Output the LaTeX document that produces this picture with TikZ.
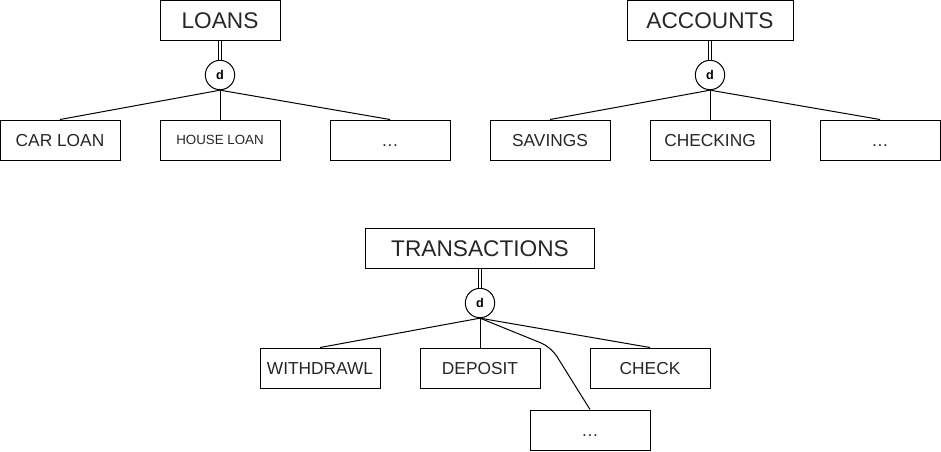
\documentclass[tikz,border=0pt]{standalone}
\usepackage{fontspec}
\setmainfont{Liberation Sans}
\usetikzlibrary{positioning}

\tikzset{
  ent/.style={draw, line width=0.75pt, minimum width=90pt, minimum height=30pt, inner sep=0pt, text=black!85, text height=9.3pt, text depth=0pt, font=\fontsize{13}{15}\selectfont},
  superent/.style={ent, text height=12.2pt, font=\fontsize{17}{20}\selectfont},
  disj/.style={draw, circle, line width=0.75pt, minimum size=22pt, inner sep=0pt, font=\fontsize{9.5}{10}\selectfont\bfseries},
  isa/.style={line width=0.75pt},
  total/.style={double, double distance=1.6pt, line width=0.6pt}
}

\begin{document}
\begin{tikzpicture}[x=0.75pt, y=-0.75pt]
			
			\useasboundingbox (0,0) rectangle (941,451);
			
			% LOANS
			\node[superent] (loans) at (220,20) {LOANS};
			\node[disj] (dl) at (220,75) {d};
			\node[ent] (carloan) at (60,140) {CAR LOAN};
			\node[ent, text height=7.2pt, font=\fontsize{10}{12}\selectfont] (houseloan) at (220,140) {HOUSE LOAN};
			\node[ent] (loandots) at (390,140) {…};
			
			\draw[total] (loans.south) -- (dl.north);
			\draw[isa] (dl.south) -- (carloan.north);
			\draw[isa] (dl.south) -- (houseloan.north);
			\draw[isa] (dl.south) -- (loandots.north);
			
			% ACCOUNTS
			\node[superent, minimum width=124.5pt] (accounts) at (710,20) {ACCOUNTS};
			\node[disj] (da) at (710,75) {d};
			\node[ent] (savings) at (550,140) {SAVINGS};
			\node[ent] (checking) at (710,140) {CHECKING};
			\node[ent] (accdots) at (880,140) {…};
			
			\draw[total] (accounts.south) -- (da.north);
			\draw[isa] (da.south) -- (savings.north);
			\draw[isa] (da.south) -- (checking.north);
			\draw[isa] (da.south) -- (accdots.north);
			
			% TRANSACTIONS
			\node[superent, minimum width=171.5pt] (trans) at (480,248) {TRANSACTIONS};
			\node[disj] (dt) at (480,303) {d};
			\node[ent] (withdrawl) at (320,368) {WITHDRAWL};
			\node[ent] (deposit) at (480,368) {DEPOSIT};
			\node[ent] (check) at (650,368) {CHECK};
			\node[ent] (transdots) at (590,430) {…};
			\coordinate (bend) at (551,347);
			
			\draw[total] (trans.south) -- (dt.north);
			\draw[isa] (dt.south) -- (withdrawl.north);
			\draw[isa] (dt.south) -- (deposit.north);
			\draw[isa] (dt.south) -- (check.north);
			\draw[isa, rounded corners=8pt] (dt.south) -- (bend) -- (transdots.north);
			
		\end{tikzpicture}
\end{document}
